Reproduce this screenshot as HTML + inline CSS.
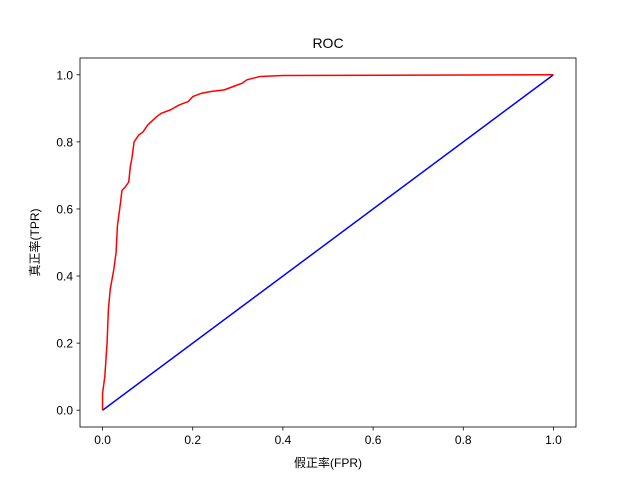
<!DOCTYPE html>
<html><head><meta charset="utf-8"><style>
body{margin:0;background:#fff}
svg text{font-family:"Liberation Sans","Noto Sans CJK JP",sans-serif;fill:#000}
</style></head><body>
<svg id="c" width="640" height="480"></svg>
<script>
const fprValues=[0,0,0.005,0.01,0.013,0.017,0.025,0.03,0.033,0.037,0.04,0.043,0.05,0.058,0.062,0.065,0.07,0.08,0.09,0.1,0.12,0.13,0.15,0.17,0.19,0.2,0.22,0.24,0.27,0.29,0.31,0.32,0.35,0.4,1];
const tprValues=[0,0.05,0.1,0.2,0.3,0.36,0.42,0.47,0.55,0.59,0.62,0.655,0.665,0.68,0.73,0.75,0.8,0.82,0.83,0.85,0.875,0.885,0.895,0.91,0.92,0.935,0.945,0.95,0.955,0.965,0.975,0.985,0.995,0.998,1];
const diagX=[0,1];
const diagY=[0,1];
const xTicks=[0,0.2,0.4,0.6,0.8,1.0];
const yTicks=[0,0.2,0.4,0.6,0.8,1.0];
const xTickLabels=["0.0","0.2","0.4","0.6","0.8","1.0"];
const yTickLabels=["0.0","0.2","0.4","0.6","0.8","1.0"];

const L=80,R=576,T=58,B=427;
const sx=v=>L+(v+0.05)/1.1*(R-L);
const sy=v=>B-(v+0.05)/1.1*(B-T);
const svg=document.getElementById('c');
const NS='http://www.w3.org/2000/svg';
function mk(tag,attrs,parent){const e=document.createElementNS(NS,tag);for(const k in attrs)e.setAttribute(k,attrs[k]);(parent||svg).appendChild(e);return e;}

const diag=mk('polyline',{points:diagX.map((x,i)=>sx(x)+','+sy(diagY[i])).join(' '),fill:'none',stroke:'#0000ff','stroke-width':1.5});


const roc=mk('polyline',{points:fprValues.map((x,i)=>sx(x)+','+sy(tprValues[i])).join(' '),fill:'none',stroke:'#ff0000','stroke-width':1.5,'stroke-linejoin':'round'});



const frame=mk('rect',{x:L,y:T,width:R-L,height:B-T,fill:'none',stroke:'#000','stroke-width':0.8});



xTicks.forEach((v,i)=>{
  const x=sx(v);
  const t=mk('line',{x1:x,x2:x,y1:B,y2:B+3.5,stroke:'#000','stroke-width':0.8});
  
  
  const l=mk('text',{x:x,y:B+17,'text-anchor':'middle','font-size':12});
  l.textContent=xTickLabels[i];
  
  
});
yTicks.forEach((v,i)=>{
  const y=sy(v);
  const t=mk('line',{x1:L-3.5,x2:L,y1:y,y2:y,stroke:'#000','stroke-width':0.8});
  
  
  const l=mk('text',{x:L-7,y:y+4.5,'text-anchor':'end','font-size':12});
  l.textContent=yTickLabels[i];
  
  
});
const title=mk('text',{x:(L+R)/2,y:48,'text-anchor':'middle','font-size':14});
title.textContent='ROC';


const xt=mk('text',{x:(L+R)/2,y:467,'text-anchor':'middle','font-size':12});
xt.textContent='假正率(FPR)';


const yt=mk('text',{x:0,y:0,'text-anchor':'middle','font-size':12,transform:'translate(39,'+((T+B)/2)+') rotate(-90)'});
yt.textContent='真正率(TPR)';


</script>
</body></html>
